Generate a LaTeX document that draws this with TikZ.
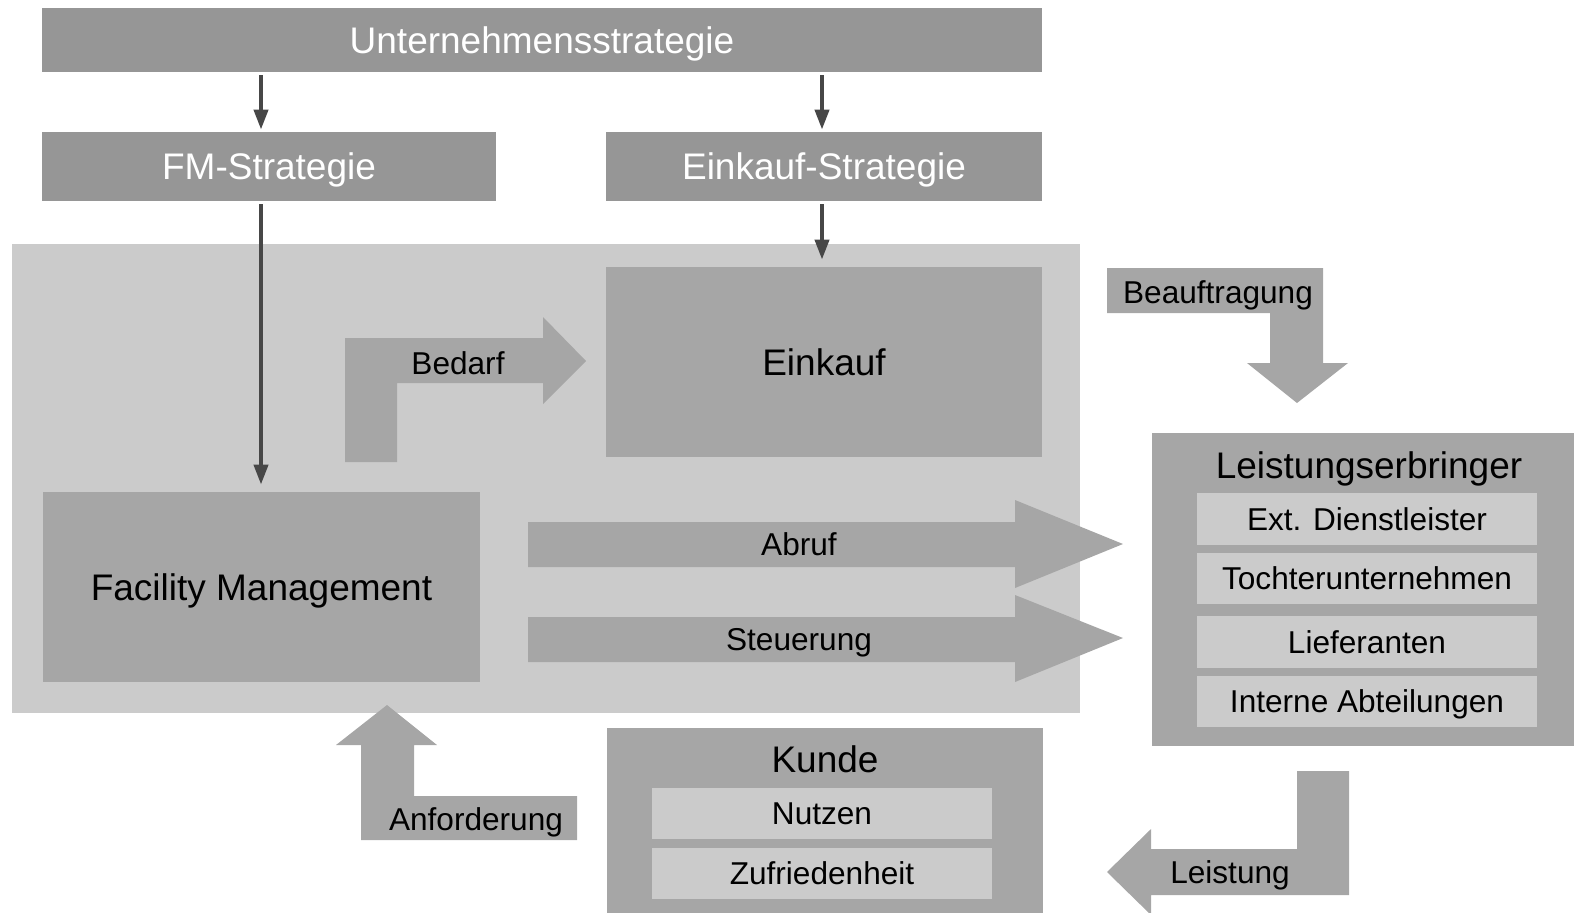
\documentclass[tikz,border=0pt]{standalone}
\usepackage{fontspec}
\setmainfont{Liberation Sans}
\usetikzlibrary{arrows.meta}
\definecolor{topgray}{HTML}{969696}
\definecolor{midgray}{HTML}{A6A6A6}
\definecolor{lightgrayB}{HTML}{CBCBCB}
\definecolor{conngray}{HTML}{474747}
\begin{document}
\begin{tikzpicture}[x=0.5pt,y=-0.5pt,
 bigfont/.style={font=\fontsize{18.5pt}{22pt}\selectfont,text depth=0pt},
 smallfont/.style={font=\fontsize{15.8pt}{19pt}\selectfont,text depth=0pt},
 topbox/.style={fill=topgray,draw=none,inner sep=0,text=white,bigfont},
 midbox/.style={fill=midgray,draw=none,inner sep=0,bigfont},
 subbox/.style={fill=lightgrayB,draw=none,inner sep=0,minimum width=170pt,smallfont},
 region/.style={fill=lightgrayB,draw=none,inner sep=0},
 blockarrow/.style={fill=midgray,draw=none},
 lbl/.style={inner sep=0,smallfont},
 title/.style={inner sep=0,bigfont},
 conn/.style={draw=conngray,line width=2pt,-{Triangle[width=7pt,length=10pt]}}]
\useasboundingbox (0,0) rectangle (1574,912);

% background region
\node[region,minimum width=534pt,minimum height=234.5pt] (reg) at (546,478.5) {};

% top boxes
\node[topbox,minimum width=500pt,minimum height=32pt] (us) at (542,40) {Unternehmensstrategie};
\node[topbox,minimum width=227pt,minimum height=34.5pt] (fms) at (269,166.5) {FM-Strategie};
\node[topbox,minimum width=218pt,minimum height=34.5pt] (eks) at (824,166.5) {Einkauf-Strategie};

% main boxes
\node[midbox,minimum width=218pt,minimum height=95pt] (ek) at (824,362) {Einkauf};
\node[midbox,minimum width=218.5pt,minimum height=95pt] (fm) at (261.5,587) {Facility Management};

% Leistungserbringer
\node[midbox,minimum width=214pt,minimum height=156.5pt] (le) at (1366,589.5) {};
\node[title] (letitle) at (1369,465) {Leistungserbringer};
\node[subbox,minimum height=26pt] (le1) at (1367,519) {Ext. Dienstleister};
\node[subbox,minimum height=25.5pt] (le2) at (1367,578.5) {Tochterunternehmen};
\node[subbox,minimum height=26pt] (le3) at (1367,642) {Lieferanten};
\node[subbox,minimum height=25.5pt] (le4) at (1367,701.5) {Interne Abteilungen};

% Kunde
\node[midbox,minimum width=218pt,minimum height=93.5pt] (ku) at (825,821.5) {};
\node[title] (kutitle) at (825,759) {Kunde};
\node[subbox,minimum height=25.5pt] (ku1) at (822,813.5) {Nutzen};
\node[subbox,minimum height=25.5pt] (ku2) at (822,873.5) {Zufriedenheit};

% connector x positions
\coordinate (cl) at (261,0);
\coordinate (cr) at (822,0);
\draw[conn,shorten <=1.5pt,shorten >=1pt] (us.south -| cl) -- (fms.north -| cl);
\draw[conn,shorten <=1.5pt,shorten >=1pt] (us.south -| cr) -- (eks.north -| cr);
\draw[conn,shorten <=1.5pt,shorten >=3.5pt] (fms.south -| cl) -- (fm.north -| cl);
\draw[conn,shorten <=1.5pt,shorten >=3.5pt] (eks.south -| cr) -- (ek.north -| cr);

% block arrows
\fill[blockarrow] (345,462) -- (345,338) -- (543,338) -- (543,317) -- (586,361) -- (543,404) -- (543,383) -- (397,383) -- (397,462) -- cycle;
\node[lbl] (bedarf) at (458,363) {Bedarf};

\fill[blockarrow] (1107,268) -- (1323,268) -- (1323,363) -- (1348,363) -- (1297,403) -- (1247,363) -- (1270,363) -- (1270,313) -- (1107,313) -- cycle;
\node[lbl] (beauf) at (1218,292) {Beauftragung};

\fill[blockarrow] (528,522) -- (1015,522) -- (1015,500) -- (1123,544) -- (1015,588) -- (1015,567) -- (528,567) -- cycle;
\node[lbl] (abruf) at (799,544) {Abruf};

\fill[blockarrow] (528,617) -- (1015,617) -- (1015,595) -- (1123,638) -- (1015,682) -- (1015,662) -- (528,662) -- cycle;
\node[lbl] (steuer) at (799,639) {Steuerung};

\fill[blockarrow] (387,705) -- (437,745) -- (414,745) -- (414,796) -- (577,796) -- (577,840) -- (361,840) -- (361,745) -- (336,745) -- cycle;
\node[lbl] (anf) at (476,819) {Anforderung};

\fill[blockarrow] (1107,872) -- (1151,829) -- (1151,849) -- (1297,849) -- (1297,771) -- (1349,771) -- (1349,895) -- (1151,895) -- (1151,915) -- cycle;
\node[lbl] (leist) at (1230,872) {Leistung};
\end{tikzpicture}
\end{document}
